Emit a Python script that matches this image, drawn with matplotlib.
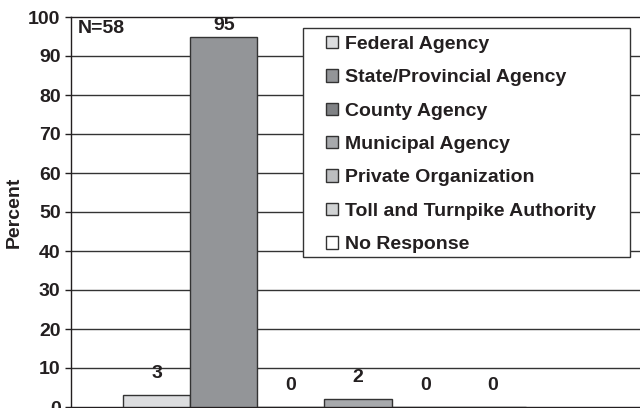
import matplotlib
matplotlib.use("Agg")
import matplotlib.pyplot as plt
import matplotlib.patches as mpatches
import numpy as np

plt.rcParams['font.family'] = ['Liberation Sans', 'DejaVu Sans']
plt.rcParams['font.weight'] = 'bold'

categories = ['Federal Agency', 'State/Provincial Agency', 'County Agency',
              'Municipal Agency', 'Private Organization',
              'Toll and Turnpike Authority', 'No Response']
values = [3, 95, 0, 2, 0, 0, np.nan]
colors = ['#dcdddf', '#939598', '#808285', '#a7a9ac', '#bcbec0', '#d1d3d4', '#ffffff']
yticks = [0, 10, 20, 30, 40, 50, 60, 70, 80, 90, 100]
note = 'N=58'

W, H = 640, 408
FS = 14
fig = plt.figure(figsize=(W / 100, H / 100), dpi=100)
# axes runs a bit past the right edge of the figure, like the source
ax = fig.add_axes([71 / W, 1 / H, 574 / W, 390 / H])

x = np.arange(len(categories))
handles = []
for i in range(len(categories)):
    ax.bar(x[i], values[i], width=1.0, color=colors[i], edgecolor='#333333',
           linewidth=1.0, zorder=3, label=categories[i])
    handles.append(mpatches.Patch(facecolor=colors[i], edgecolor='#333333',
                                  linewidth=1.0, label=categories[i]))
    v = values[i]
    if np.isnan(v):
        continue
    off = 2 if v > 90 else 9.5
    ax.annotate(str(int(v)), (x[i], v), xytext=(0, off), textcoords='offset points',
                ha='center', va='bottom', fontsize=FS, fontweight='bold',
                color='#231f20', zorder=4)

ax.set_xlim(-0.5 - 0.775, len(categories) - 0.5 + 0.775)
ax.set_ylim(0, 100)
ax.set_yticks(yticks)
ax.set_yticklabels([str(t) for t in yticks], fontsize=FS, fontweight='bold',
                   color='#231f20')
ax.set_xticks([])
ax.tick_params(axis='y', length=4.5, width=1, color='#231f20', pad=3)
for t in yticks[1:-1]:
    ax.axhline(t, color='#333333', linewidth=1.0, zorder=1)

ax.spines['right'].set_visible(False)
for s in ['left', 'top', 'bottom']:
    ax.spines[s].set_color('#231f20')
    ax.spines[s].set_linewidth(1.0)

ax.set_ylabel('Percent', fontsize=FS, fontweight='bold', color='#231f20')
ax.yaxis.set_label_coords(-(71 - 23) / 574, 0.5)
ax.annotate(note, (0, 1), xycoords='axes fraction', xytext=(5, -2),
            textcoords='offset points', ha='left', va='top',
            fontsize=FS, fontweight='bold', color='#231f20')

# legend frame drawn by hand (wide padding in the original)
rect = mpatches.Rectangle((303 / W, 1 - 257 / H), (630 - 303) / W, (257 - 28) / H,
                          transform=fig.transFigure, facecolor='white',
                          edgecolor='#333333', linewidth=1.0, zorder=5)
fig.patches.append(rect)
leg = fig.legend(handles=handles, loc='upper left',
                 bbox_to_anchor=(326 / W, 1 - 36 / H), frameon=False,
                 fontsize=FS, handlelength=0.6, handleheight=0.6,
                 handletextpad=0.4, labelspacing=0.84, borderpad=0,
                 borderaxespad=0)
leg.set_zorder(6)
for t in leg.get_texts():
    t.set_color('#231f20')
    t.set_fontweight('bold')

fig.savefig('out.png', dpi=100)
